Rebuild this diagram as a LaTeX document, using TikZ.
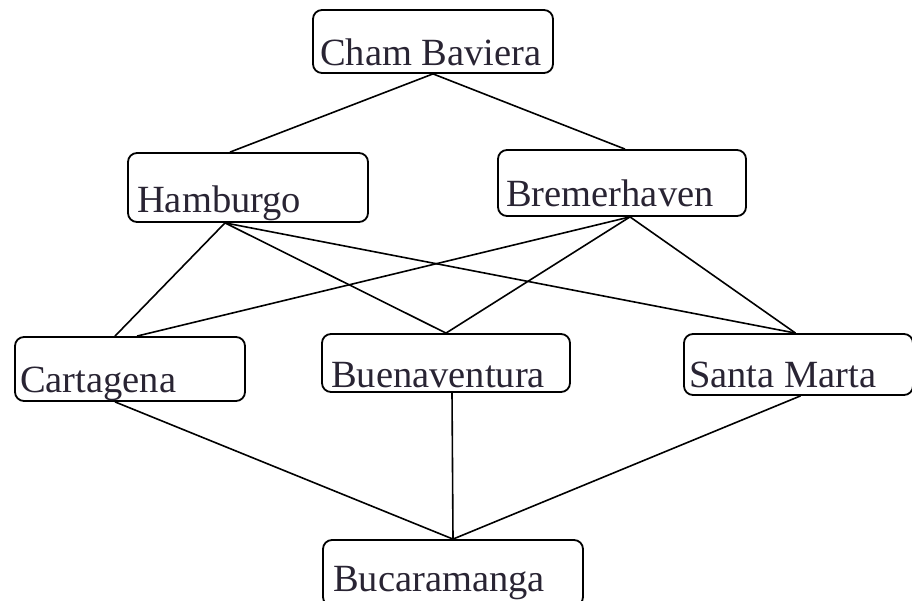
\documentclass[tikz,border=0pt]{standalone}
\usepackage{fontspec}
\setmainfont{Liberation Serif}
\usetikzlibrary{calc}
\definecolor{txt}{rgb}{0.16,0.14,0.2}
\tikzset{
  box/.style={draw=black, line width=1.8pt, rounded corners=9pt, inner sep=0pt},
  lbl/.style={anchor=base west, inner sep=0pt, text=txt, font=\fontsize{38.5}{42}\selectfont},
  link/.style={draw=black, line width=1.6pt}
}
\begin{document}
\begin{tikzpicture}[x=1pt,y=1pt]
\useasboundingbox (0,0) rectangle (912,601);
% boxes
\node[box, minimum width=240pt, minimum height=63pt] (cham) at (433,559.5) {};
\node[box, minimum width=240pt, minimum height=69pt] (ham) at (248,413.5) {};
\node[box, minimum width=248pt, minimum height=66pt] (brem) at (622,418) {};
\node[box, minimum width=230pt, minimum height=64pt] (cart) at (130,232) {};
\node[box, minimum width=248pt, minimum height=58pt] (buen) at (446,238) {};
\node[box, minimum width=229pt, minimum height=61pt] (santa) at (798.5,236.5) {};
\node[box, minimum width=260pt, minimum height=66pt] (buca) at (453,28) {};
% labels
\node[lbl] (tcham) at (320,535) {Cham Baviera};
\node[lbl] (tham) at (137,388) {Hamburgo};
\node[lbl] (tbrem) at (506,394) {Bremerhaven};
\node[lbl] (tcart) at (20,208) {Cartagena};
\node[lbl] (tbuen) at (331,213) {Buenaventura};
\node[lbl] (tsanta) at (689,213) {Santa Marta};
\node[lbl] (tbuca) at (333,9) {Bucaramanga};
% connectors
\draw[link] (cham.south) -- ([xshift=-18pt]ham.north);
\draw[link] (cham.south) -- ([xshift=3pt]brem.north);
\draw[link] ([xshift=-23pt]ham.south) -- ([xshift=-15pt]cart.north);
\draw[link] ([xshift=-23pt]ham.south) -- (buen.north);
\draw[link] ([xshift=-23pt]ham.south) -- ([xshift=-3pt]santa.north);
\draw[link] ([xshift=8pt]brem.south) -- ([xshift=7pt]cart.north);
\draw[link] ([xshift=8pt]brem.south) -- (buen.north);
\draw[link] ([xshift=8pt]brem.south) -- ([xshift=-3pt]santa.north);
\draw[link] ([xshift=-15pt]cart.south) -- (buca.north);
\draw[link] ([xshift=6pt]buen.south) -- (buca.north);
\draw[link] ([xshift=2pt]santa.south) -- (buca.north);
\end{tikzpicture}
\end{document}
